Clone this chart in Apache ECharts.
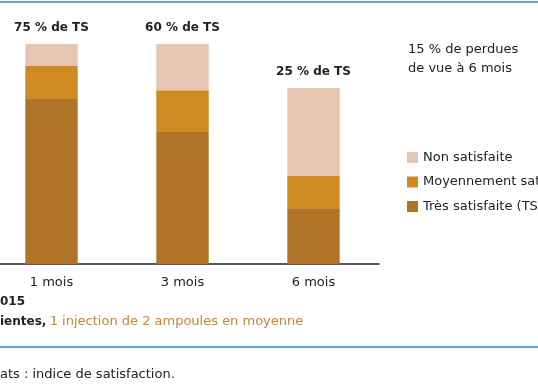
<!DOCTYPE html>
<html>
<head>
<meta charset="utf-8">
<script src="https://cdn.jsdelivr.net/npm/echarts@6/dist/echarts.min.js"></script>
<style>
html,body{margin:0;padding:0;background:#fff;}
#c{width:538px;height:384px;}
</style>
</head>
<body>
<div id="c"></div>
<script>
var categories = ['1 mois', '3 mois', '6 mois'];
var tresSatisfaite = [75, 60, 25];
var moyennement = [15, 19, 15];
var nonSatisfaite = [10, 21, 40];
var tsLabels = ['75 % de TS', '60 % de TS', '25 % de TS'];
var seriesNames = ['Très satisfaite (TS)', 'Moyennement satisfaite', 'Non satisfaite'];

var FONT = '"DejaVu Sans", sans-serif';
var chart = echarts.init(document.getElementById('c'), null, {renderer: 'canvas'});
chart.setOption({
  animation: false,
  textStyle: {fontFamily: FONT},
  grid: {left: -14, right: 159, top: 44, bottom: 120, containLabel: false, outerBoundsMode: 'none'},
  xAxis: {
    type: 'category',
    data: categories,
    axisLine: {lineStyle: {color: '#222', width: 1.5}},
    axisTick: {show: false},
    axisLabel: {color: '#222', fontSize: 13, margin: 12, fontFamily: FONT}
  },
  yAxis: {type: 'value', min: 0, max: 100, show: false, splitLine: {show: false}},
  legend: {
    orient: 'vertical',
    left: 407, top: 151, padding: 0,
    itemWidth: 11, itemHeight: 11, itemGap: 11.5,
    icon: 'rect',
    data: [seriesNames[2], seriesNames[1], seriesNames[0]],
    textStyle: {fontSize: 13, fontWeight: 500, color: '#222', fontFamily: FONT}
  },
  series: [
    {name: seriesNames[0], type: 'bar', stack: 's', data: tresSatisfaite, barWidth: '40%', itemStyle: {color: '#b07428'}},
    {name: seriesNames[1], type: 'bar', stack: 's', data: moyennement, itemStyle: {color: '#cf8a22'}},
    {name: seriesNames[2], type: 'bar', stack: 's', data: nonSatisfaite, itemStyle: {color: '#e6c6b0'},
      label: {show: true, position: 'top', distance: 10, color: '#222', fontSize: 12, fontWeight: 'bold', fontFamily: FONT,
        formatter: function (p) { return tsLabels[p.dataIndex]; }}}
  ],
  graphic: [
    {type: 'rect', shape: {x: 0, y: 1, width: 538, height: 2}, style: {fill: '#6aa0dc'}},
    {type: 'text', left: 408, top: 40, style: {text: '15 % de perdues\nde vue à 6 mois', font: '500 13px ' + FONT, fill: '#222', lineHeight: 19}},
    {type: 'text', left: 0, top: 296, style: {text: '015', font: 'bold 12px ' + FONT, fill: '#222'}},
    {type: 'text', left: 0, top: 315, style: {
      text: '{a|ientes,} {b|1 injection de 2 ampoules en moyenne}',
      rich: {a: {font: 'bold 12px ' + FONT, fill: '#222'}, b: {font: '13px ' + FONT, fill: '#c8862e'}}
    }},
    {type: 'rect', shape: {x: 0, y: 346, width: 538, height: 2}, style: {fill: '#6aa0dc'}},
    {type: 'text', left: 0, top: 368, style: {text: 'ats : indice de satisfaction.', font: '13px ' + FONT, fill: '#222'}}
  ]
});
</script>
</body>
</html>
